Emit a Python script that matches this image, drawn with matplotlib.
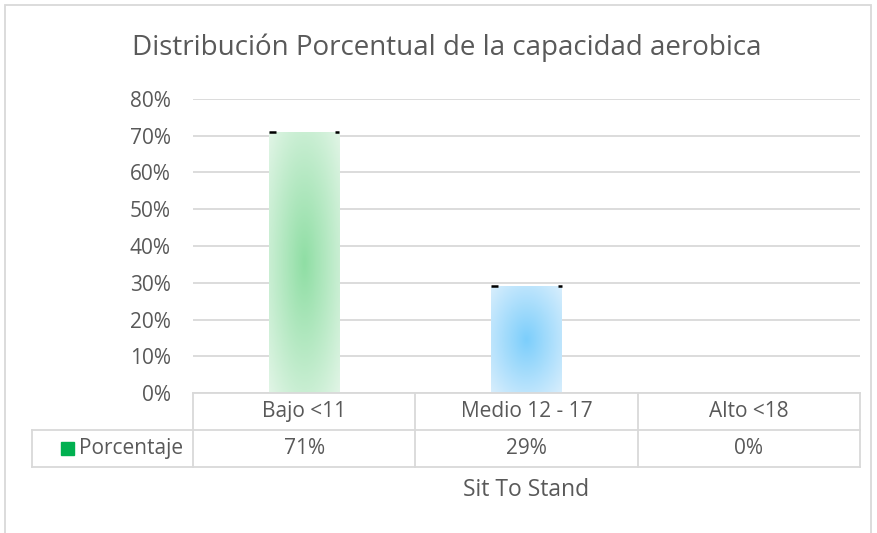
import numpy as np
import matplotlib.pyplot as plt
from matplotlib.colors import LinearSegmentedColormap, to_rgb
from matplotlib.patches import Rectangle

plt.rcParams['font.family'] = ['Open Sans', 'DejaVu Sans']

categories = ['Bajo <11', 'Medio 12 - 17', 'Alto <18']
values = [0.71, 0.29, 0.0]
table_labels = ['71%', '29%', '0%']
series_name = 'Porcentaje'
center_colors = ['#8fdea4', '#7ccefb', '#8fdea4']
edge_colors = ['#e1f5e6', '#d8eefd', '#e1f5e6']

text_color = '#595959'
grid_color = '#d9d9d9'
fs = 15

fig = plt.figure(figsize=(8.77, 5.33), dpi=100)
ax = fig.add_axes([193 / 877, 1 - 393 / 533, 667 / 877, 294 / 533])

ax.set_xlim(-0.5, 2.5)
ax.set_ylim(0, 0.8)
ax.set_yticks(np.arange(0, 0.81, 0.1))
ax.set_yticklabels([f'{int(round(t * 100))}%' for t in np.arange(0, 0.81, 0.1)])
ax.yaxis.grid(True, color=grid_color, linewidth=1.3)
ax.set_axisbelow(True)
ax.set_xticks([])
ax.tick_params(axis='y', length=0, labelsize=fs, labelcolor=text_color, pad=16)
for s in ax.spines.values():
    s.set_visible(False)

bar_w = 0.315
bars = ax.bar(range(len(categories)), values, width=bar_w, color='none', zorder=2)

# radial gradient fill for each bar
ny, nx = 200, 60
yy, xx = np.mgrid[-1:1:ny * 1j, -1:1:nx * 1j]
dist = np.clip(np.sqrt(xx ** 2 + yy ** 2) / np.sqrt(2), 0, 1)
for b, v, c0, c1 in zip(bars, values, center_colors, edge_colors):
    if v <= 0:
        continue
    cmap = LinearSegmentedColormap.from_list('g', [to_rgb(c0), to_rgb(c1)])
    x0 = b.get_x()
    im = ax.imshow(dist, cmap=cmap, vmin=0, vmax=1, aspect='auto',
                   extent=(x0, x0 + b.get_width(), 0, v), zorder=2, origin='lower')
    im.set_clip_path(b)
    # small dark marks at the top corners
    ax.plot([x0, x0 + 0.03], [v, v], color='black', lw=1.8, zorder=3, solid_capstyle='butt')
    ax.plot([x0 + b.get_width() - 0.018, x0 + b.get_width()], [v, v], color='black', lw=1.8,
            zorder=3, solid_capstyle='butt')
ax.set_xlim(-0.5, 2.5)
ax.set_ylim(0, 0.8)

# data table below the plot
row_h = 37 / 294
left_x = (32 - 193) / 667
tk = dict(transform=ax.transAxes, clip_on=False, color=grid_color, lw=1.3)
ax.plot([0, 1], [0, 0], **tk)
ax.plot([left_x, 1], [-row_h, -row_h], **tk)
ax.plot([left_x, 1], [-2 * row_h, -2 * row_h], **tk)
for i in range(len(categories) + 1):
    ax.plot([i / 3, i / 3], [0, -2 * row_h], **tk)
ax.plot([left_x, left_x], [-row_h, -2 * row_h], **tk)

for i, (cat, lab) in enumerate(zip(categories, table_labels)):
    xc = (i + 0.5) / 3
    ax.text(xc, -row_h / 2, cat, transform=ax.transAxes, ha='center', va='center',
            fontsize=fs, color=text_color)
    ax.text(xc, -1.5 * row_h, lab, transform=ax.transAxes, ha='center', va='center',
            fontsize=fs, color=text_color)

ax.add_patch(Rectangle((left_x + 29 / 667, -1.5 * row_h - 6.5 / 294), 13 / 667, 13 / 294,
                       transform=ax.transAxes, clip_on=False, color='#00b050'))
ax.text(left_x + 47 / 667, -1.5 * row_h, series_name, transform=ax.transAxes,
        ha='left', va='center', fontsize=fs, color=text_color)

ax.text(0.5, -(490 - 393) / 294, 'Sit To Stand', transform=ax.transAxes,
        ha='center', va='center', fontsize=16.5, color=text_color)

fig.text(447 / 877, 1 - 48 / 533, 'Distribución Porcentual de la capacidad aerobica',
         ha='center', va='center', fontsize=20, color=text_color)

# outer chart border
fig.add_artist(Rectangle((5 / 877, -0.05), 866 / 877, 1 - 5 / 533 + 0.05,
                         transform=fig.transFigure, fill=False, edgecolor=grid_color, lw=1.3))

fig.savefig('out.png', dpi=100)
